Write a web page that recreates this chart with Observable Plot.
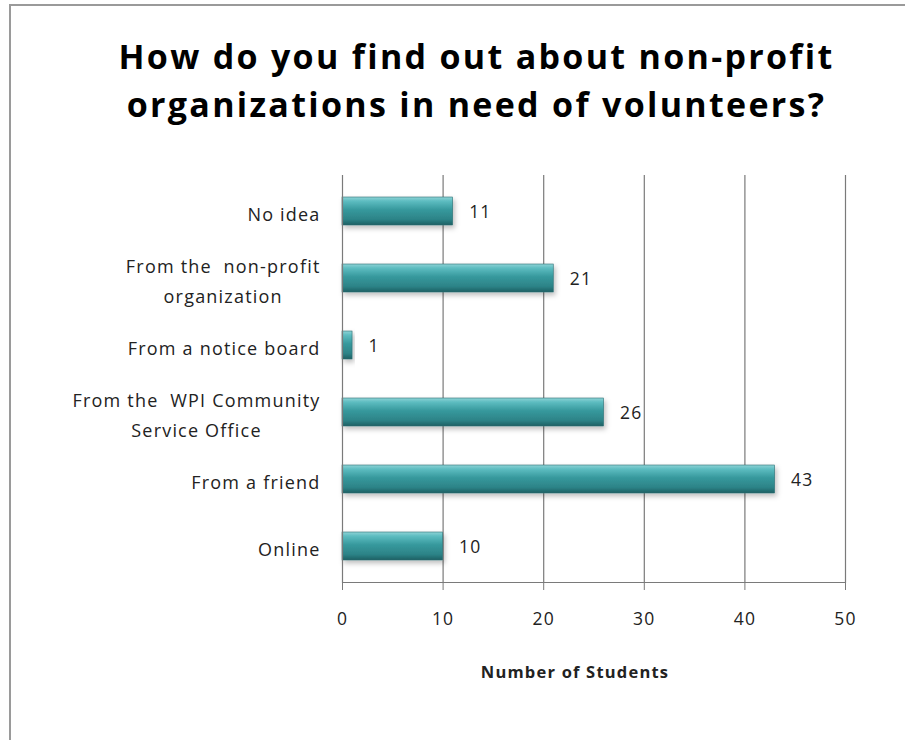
<!DOCTYPE html>
<html>
<head>
<meta charset="utf-8">
<script src="https://cdn.jsdelivr.net/npm/d3@7"></script>
<script src="https://cdn.jsdelivr.net/npm/@observablehq/plot@0.6"></script>
<style>
  body { margin: 0; background: #fff; }
  #wrap { position: relative; width: 905px; height: 740px; overflow: hidden; background: #fff; }
  #frame { position: absolute; left: 9px; top: 4px; width: 1000px; height: 1000px; border-left: 2px solid #9a9a9a; border-top: 2px solid #9a9a9a; box-sizing: border-box; }
  #title { position: absolute; left: 9px; width: 935px; top: 32px; text-align: center; font-family: "Open Sans", sans-serif; font-weight: bold; font-size: 34px; line-height: 48px; color: #000; letter-spacing: 2.3px; }
  #chart { position: absolute; left: 0; top: 160px; }
  #chart svg text { letter-spacing: 1.2px; }
</style>
</head>
<body>
<div id="wrap">
  <div id="frame"></div>
  <div id="title">How do you find out about non-profit<br>organizations in need of volunteers?</div>
  <div id="chart"></div>
</div>
<script>
const categories = [
  "No idea",
  "From the  non-profit\norganization",
  "From a notice board",
  "From the  WPI Community\nService Office",
  "From a friend",
  "Online"
];
const values = [11, 21, 1, 26, 43, 10];
const xTicks = [0, 10, 20, 30, 40, 50];
const xLabel = "Number of Students";

const data = categories.map((c, i) => ({category: c, value: values[i]}));

const font = "'Open Sans', sans-serif";

const plot = Plot.plot({
  width: 905,
  height: 580,
  marginLeft: 342,
  marginRight: 60,
  marginTop: 15,
  marginBottom: 158,
  style: {fontFamily: font, fontSize: "17px", color: "#222", background: "transparent"},
  x: {domain: [0, 50], ticks: xTicks},
  y: {domain: categories, paddingInner: 0.58, paddingOuter: 0.29},
  marks: [
    Plot.gridX(xTicks.filter(d => d > 0), {stroke: "#7a7a7a", strokeOpacity: 1, strokeWidth: 1.2}),
    Plot.barX(data, {x: "value", y: "category", fill: "url(#barGrad)", stroke: "#2a6e72", strokeWidth: 0.6}),
    Plot.text(data, {x: "value", y: "category", text: d => String(d.value), textAnchor: "start", dx: 16, dy: 1, fontSize: 17.5, fill: "#222"}),
    Plot.axisX({ticks: xTicks, tickSize: 8, tickPadding: 22, stroke: "#7a7a7a", label: null, fontSize: 17.5}),
    Plot.text([xLabel], {frameAnchor: "bottom", dx: -19, dy: 95, fontSize: 16.5, fontWeight: "bold", fill: "#222"}),
    Plot.axisY({tickSize: 0, tickPadding: 22, label: null, lineHeight: 1.65, fontSize: 18}),
    Plot.frame({anchor: "bottom", stroke: "#7a7a7a", strokeWidth: 1.2}),
    Plot.ruleX([0], {stroke: "#7a7a7a", strokeWidth: 1.2})
  ]
});

document.getElementById("chart").appendChild(plot);

// gradient + shadow definitions
const svg = d3.select(plot);
const defs = svg.insert("defs", ":first-child");
const g = defs.append("linearGradient").attr("id", "barGrad")
  .attr("x1", 0).attr("y1", 0).attr("x2", 0).attr("y2", 1);
[["0%", "#8fd3d6"], ["15%", "#5cbcc0"], ["45%", "#37999d"], ["80%", "#2c8387"], ["100%", "#1d5f63"]]
  .forEach(([o, c]) => g.append("stop").attr("offset", o).attr("stop-color", c));
const f = defs.append("filter").attr("id", "shadow").attr("x", "-10%").attr("y", "-30%").attr("width", "130%").attr("height", "180%");
f.append("feDropShadow").attr("dx", 2).attr("dy", 3).attr("stdDeviation", 2.5).attr("flood-color", "#000").attr("flood-opacity", 0.25);
svg.selectAll("g[aria-label='bar'] rect").attr("filter", "url(#shadow)");

// center multi-line y tick labels within their block (right-aligned block)
svg.selectAll("g[aria-label='y-axis tick label'] text").each(function () {
  const tspans = d3.select(this).selectAll("tspan");
  if (tspans.size() > 1) {
    const widths = tspans.nodes().map(n => n.getComputedTextLength());
    const maxW = d3.max(widths);
    d3.select(this).attr("text-anchor", "middle");
    tspans.attr("x", -maxW / 2);
  }
});
</script>
</body>
</html>
